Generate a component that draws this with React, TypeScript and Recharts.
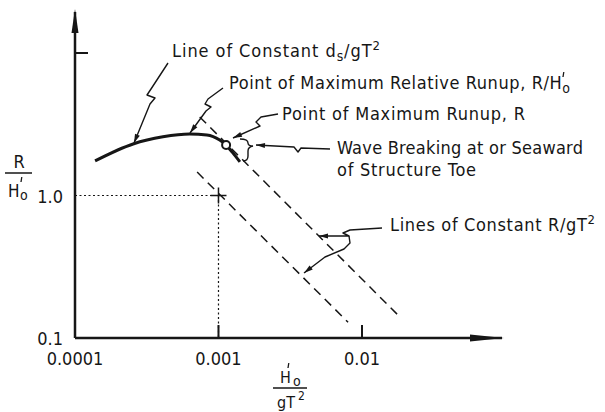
import React from 'react';
import { LineChart, Line, XAxis, YAxis, ReferenceDot, Customized } from 'recharts';

// H'o/gT^2 on x, R/H'o on y, both logarithmic
const curveX = [1.38e-4, 2.54e-4, 4.1e-4, 6.3e-4, 8.3e-4, 1.02e-3, 1.13e-3, 1.26e-3, 1.41e-3];
const curveY = [1.75, 2.3, 2.58, 2.7, 2.66, 2.45, 2.26, 1.99, 1.72];

// lines of constant R/gT^2
const upperRunupX = [7.4e-4, 0.0187];
const upperRunupY = [3.56, 0.138];
const lowerRunupX = [7.1e-4, 0.008];
const lowerRunupY = [1.46, 0.129];

const refX = [0.0001, 0.001];
const refY = [0.1, 1.0];
const maxRunup = { x: 1.13e-3, y: 2.26 };

const xTicks = [0.0001, 0.001, 0.01];
const xTickLabels = ['0.0001', '0.001', '0.01'];
const yTicks = [0.1, 1, 10];
const yTickLabels = ['0.1', '1.0', ''];
const xDomain = [0.0001, 0.0946];
const yDomain = [0.1, 19.4];

const FONT = "'Liberation Sans Narrow', 'DejaVu Sans Condensed', Roboto, sans-serif";
const INK = '#161616';

const toPts = (xs: number[], ys: number[]) => xs.map((x, i) => ({ x, y: ys[i] }));

const curveData = toPts(curveX, curveY);
const upperData = toPts(upperRunupX, upperRunupY);
const lowerData = toPts(lowerRunupX, lowerRunupY);
const dotH = [{ x: refX[0], y: refY[1] }, { x: refX[1], y: refY[1] }];
const dotV = [{ x: refX[1], y: refY[1] }, { x: refX[1], y: refY[0] }];

const XTick = (props: any) => {
  const { x, y, payload } = props;
  const i = xTicks.indexOf(payload.value);
  return (
    <g>
      {i > 0 && <line x1={x} y1={y} x2={x} y2={y - 13} stroke={INK} strokeWidth={2} />}
      <text x={x} y={y + 27} textAnchor="middle" fontFamily={FONT} fontSize={18} fill={INK}>
        {xTickLabels[i]}
      </text>
    </g>
  );
};

const YTick = (props: any) => {
  const { x, y, payload } = props;
  const i = yTicks.indexOf(payload.value);
  return (
    <g>
      {i === 2 && <line x1={x} y1={y} x2={x + 13} y2={y} stroke={INK} strokeWidth={2} />}
      <text x={x - 12} y={y + 7} textAnchor="end" fontFamily={FONT} fontSize={18} fill={INK}>
        {yTickLabels[i]}
      </text>
    </g>
  );
};

const PlusMark = (props: any) => (
  <g stroke={INK} strokeWidth={1.5}>
    <line x1={props.cx - 8} y1={props.cy} x2={props.cx + 8} y2={props.cy} />
    <line x1={props.cx} y1={props.cy - 8} x2={props.cx} y2={props.cy + 8} />
  </g>
);

// leader line with a filled arrowhead at its last point
const Leader = ({ pts }: { pts: number[][] }) => {
  const d = 'M' + pts.map((p) => p.join(',')).join(' L');
  const [x1, y1] = pts[pts.length - 2];
  const [x2, y2] = pts[pts.length - 1];
  const a = Math.atan2(y2 - y1, x2 - x1);
  const L = 9;
  const W = 2.6;
  const bx = x2 - L * Math.cos(a);
  const by = y2 - L * Math.sin(a);
  const head = `M${x2},${y2} L${bx - W * Math.sin(a)},${by + W * Math.cos(a)} L${bx + W * Math.sin(a)},${by - W * Math.cos(a)} Z`;
  return (
    <g>
      <path d={d} fill="none" stroke={INK} strokeWidth={1.4} strokeLinejoin="round" />
      <path d={head} fill={INK} />
    </g>
  );
};

const Note = ({ x, y, w, children }: any) => (
  <text x={x} y={y} textLength={w} lengthAdjust="spacing" fontFamily={FONT} fontSize={18} fill={INK}>
    {children}
  </text>
);

const Prime = ({ x, y }: { x: number; y: number }) => (
  <line x1={x + 0.8} y1={y} x2={x} y2={y + 5} stroke={INK} strokeWidth={1.3} />
);

const Annotations = () => (
  <g>
    {/* axis arrowheads */}
    <path d="M75,9 L71.5,33 L78.5,33 Z" fill={INK} />
    <path d="M504,338 L470,334.5 L470,341.5 Z" fill={INK} />

    {/* leaders */}
    <Leader pts={[[168, 63], [151, 89], [147, 95], [155, 98], [150, 104], [134, 143]]} />
    <Leader pts={[[223, 88], [208, 99], [205, 104], [211, 107], [206, 111], [190, 133]]} />
    <Leader pts={[[278, 114], [261, 117], [256, 122], [260, 126], [233, 138]]} />
    <Leader pts={[[330, 149], [301, 148], [298, 152], [294, 147], [256, 145]]} />
    <Leader pts={[[382, 228], [350, 230], [343, 233], [349, 236], [319, 236]]} />
    <Leader pts={[[349, 236], [350, 243], [344, 249], [325, 257], [304, 273]]} />

    {/* brace at breaking zone */}
    <path
      d="M240,139 Q248,139 248,143 Q248,146 253,146 Q248,147 248,151 L248,156 Q248,161 243,161"
      fill="none"
      stroke={INK}
      strokeWidth={1.4}
    />

    {/* notes */}
    <Note x={172} y={57} w={208}>
      Line of Constant d<tspan dy={4} fontSize={14}>s</tspan>
      <tspan dy={-4}>/gT</tspan>
      <tspan dy={-7} fontSize={13}>2</tspan>
    </Note>
    <Note x={229} y={89} w={341}>
      Point of Maximum Relative Runup, R/H<tspan dy={4} fontSize={14}>o</tspan>
    </Note>
    <Prime x={563} y={72} />
    <Note x={282} y={120} w={243}>Point of Maximum Runup, R</Note>
    <Note x={337} y={154} w={246}>Wave Breaking at or Seaward</Note>
    <Note x={337} y={176} w={139}>of Structure Toe</Note>
    <Note x={390} y={231} w={205}>
      Lines of Constant R/gT<tspan dy={-7} fontSize={13}>2</tspan>
    </Note>

    {/* y axis title */}
    <g fontFamily={FONT} fill={INK}>
      <text x={19} y={168} textAnchor="middle" fontSize={18}>R</text>
      <line x1={5} y1={173} x2={32} y2={173} stroke={INK} strokeWidth={1.5} />
      <text x={8} y={197} fontSize={17}>H</text>
      <text x={20} y={200} fontSize={14}>o</text>
    </g>
    <Prime x={21} y={177} />

    {/* x axis title */}
    <g fontFamily={FONT} fill={INK}>
      <text x={280} y={383} fontSize={16}>H</text>
      <text x={293} y={386} fontSize={14}>o</text>
      <line x1={273} y1={388} x2={307} y2={388} stroke={INK} strokeWidth={1.5} />
      <text x={277} y={408} fontSize={16}>gT</text>
      <text x={298} y={400} fontSize={12}>2</text>
    </g>
    <Prime x={288} y={363} />
  </g>
);

export default function App() {
  return (
    <div style={{ position: 'absolute', left: 0, top: 0, background: '#fff' }}>
      <LineChart width={605} height={412} margin={{ top: 12, right: 103, bottom: 44, left: 15 }}>
        <XAxis
          dataKey="x"
          type="number"
          scale="log"
          domain={xDomain}
          allowDataOverflow
          ticks={xTicks}
          tickSize={0}
          tickMargin={0}
          height={30}
          tick={<XTick />}
          axisLine={{ stroke: INK, strokeWidth: 2.5 }}
        />
        <YAxis
          dataKey="y"
          type="number"
          scale="log"
          domain={yDomain}
          allowDataOverflow
          ticks={yTicks}
          tickSize={0}
          tickMargin={0}
          width={60}
          tick={<YTick />}
          axisLine={{ stroke: INK, strokeWidth: 2.5 }}
        />
        <Line data={dotH} dataKey="y" type="linear" stroke={INK} strokeWidth={1.2} strokeDasharray="2 2.5" dot={false} isAnimationActive={false} />
        <Line data={dotV} dataKey="y" type="linear" stroke={INK} strokeWidth={1.2} strokeDasharray="2 2.5" dot={false} isAnimationActive={false} />
        <Line data={upperData} dataKey="y" type="linear" stroke={INK} strokeWidth={1.5} strokeDasharray="9 6" dot={false} isAnimationActive={false} />
        <Line data={lowerData} dataKey="y" type="linear" stroke={INK} strokeWidth={1.5} strokeDasharray="9 6" dot={false} isAnimationActive={false} />
        <Line data={curveData} dataKey="y" type="monotone" stroke={INK} strokeWidth={3} dot={false} isAnimationActive={false} />
        <ReferenceDot x={refX[1]} y={refY[1]} r={8} shape={<PlusMark />} />
        <ReferenceDot x={maxRunup.x} y={maxRunup.y} r={4} fill="#fff" stroke={INK} strokeWidth={2} />
        <Customized component={<Annotations />} />
      </LineChart>
    </div>
  );
}
